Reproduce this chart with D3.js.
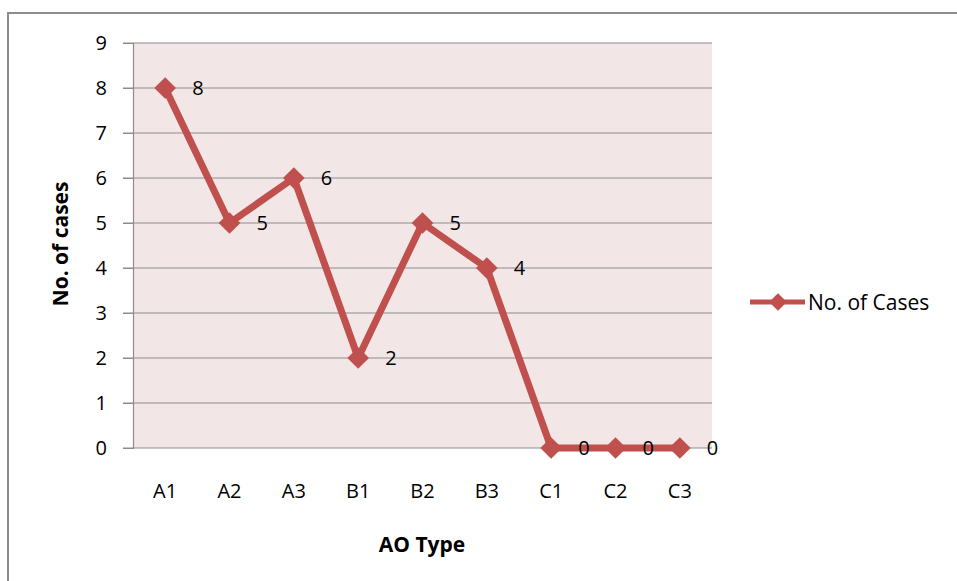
<!DOCTYPE html>
<html>
<head>
<meta charset="utf-8">
<script src="https://cdn.jsdelivr.net/npm/d3@7"></script>
<style>
  body{margin:0;background:#fff;}
  text{font-family:"Open Sans","Noto Sans",sans-serif;fill:#000;}
</style>
</head>
<body>
<svg id="chart" width="957" height="581"></svg>
<script>
// data
var categories=["A1","A2","A3","B1","B2","B3","C1","C2","C3"];
var cases=[8,5,6,2,5,4,0,0,0];
var yTicks=[0,1,2,3,4,5,6,7,8,9];
var seriesName="No. of Cases";

var svg=d3.select("#chart");
var plotL=133,plotT=43,plotR=712,plotB=448;
var red="#c0504d";

// outer frame
svg.append("rect").attr("x",8).attr("y",13).attr("width",960).attr("height",600)
    .attr("fill","none").attr("stroke","#8c8c8c").attr("stroke-width",2);

var x=d3.scaleBand().domain(categories).range([plotL,plotR]);
var y=d3.scaleLinear().domain([0,9]).range([plotB,plotT]);

// plot background
svg.append("rect").attr("x",plotL).attr("y",plotT).attr("width",plotR-plotL).attr("height",plotB-plotT)
    .attr("fill","#f2e6e6");

// gridlines
svg.append("g").selectAll("line").data(yTicks).enter().append("line")
    .attr("x1",plotL-10).attr("x2",plotR)
    .attr("y1",d=>y(d)).attr("y2",d=>y(d))
    .attr("stroke","#8c8c8c").attr("stroke-width",1.2);

// y axis
var yAxis=svg.append("g").attr("transform","translate("+plotL+",0)")
    .call(d3.axisLeft(y).tickValues(yTicks).tickSize(10).tickPadding(16));
yAxis.select(".domain").attr("stroke","#8c8c8c").attr("stroke-width",1.2);
yAxis.selectAll(".tick line").attr("stroke","#8c8c8c");
yAxis.selectAll("text").attr("font-size","20px").style("font-family","'Open Sans',sans-serif");

// x labels
svg.append("g").selectAll("text").data(categories).enter().append("text")
    .attr("x",d=>x(d)+x.bandwidth()/2).attr("y",498)
    .attr("text-anchor","middle").attr("font-size","20px").text(d=>d);

// axis titles
svg.append("text").attr("x",422).attr("y",552).attr("text-anchor","middle")
    .attr("font-size","21px").attr("font-weight","bold").text("AO Type");
svg.append("text").attr("transform","translate(68,244) rotate(-90)").attr("text-anchor","middle")
    .attr("font-size","21px").attr("font-weight","bold").text("No. of cases");

// line
var line=d3.line().x((d,i)=>x(categories[i])+x.bandwidth()/2).y(d=>y(d));
svg.append("path").datum(cases).attr("d",line).attr("fill","none")
    .attr("stroke",red).attr("stroke-width",7).attr("stroke-linejoin","round");

var diamond=d3.symbol().type(d3.symbolDiamond2).size(300);
svg.append("g").selectAll("path").data(cases).enter().append("path")
    .attr("d",diamond)
    .attr("transform",(d,i)=>"translate("+(x(categories[i])+x.bandwidth()/2)+","+y(d)+")")
    .attr("fill",red);

// data labels
svg.append("g").selectAll("text").data(cases).enter().append("text")
    .attr("x",(d,i)=>x(categories[i])+x.bandwidth()/2+27)
    .attr("y",d=>y(d)+7)
    .attr("text-anchor","start").attr("font-size","20px").text(d=>d);

// legend
var lg=svg.append("g").attr("transform","translate(750,302)");
lg.append("line").attr("x1",0).attr("x2",55).attr("stroke",red).attr("stroke-width",5);
lg.append("path").attr("d",d3.symbol().type(d3.symbolDiamond2).size(200)).attr("transform","translate(28,0)").attr("fill",red);
lg.append("text").attr("x",58).attr("y",8).attr("font-size","21px").text(seriesName);
</script>
</body>
</html>
